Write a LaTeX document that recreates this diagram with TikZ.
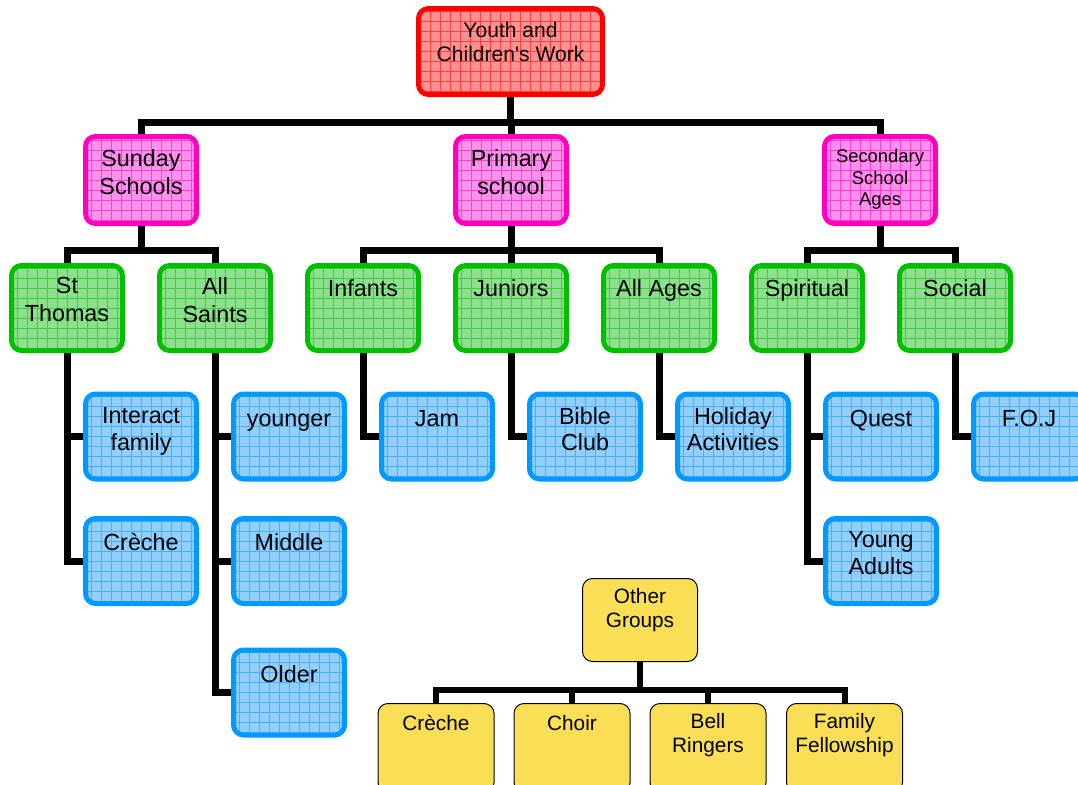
\documentclass[tikz,border=0pt]{standalone}
\usepackage{fontspec}
\setmainfont{Liberation Sans}
\usetikzlibrary{positioning,backgrounds}
\definecolor{topred}{RGB}{255,0,0}
\definecolor{topfill}{RGB}{255,145,145}
\definecolor{grpmag}{RGB}{255,0,190}
\definecolor{grpfill}{RGB}{255,145,238}
\definecolor{subgreen}{RGB}{0,190,0}
\definecolor{subfill}{RGB}{140,226,140}
\definecolor{actblue}{RGB}{0,153,255}
\definecolor{actfill}{RGB}{145,207,255}
\definecolor{othfill}{RGB}{250,222,85}
\tikzset{
  gridbox/.style={draw=#1, line width=3.75pt, rounded corners=7.5pt, inner sep=0pt,
    path picture={\draw[#1!75!white, line width=0.4pt, step=7.5pt]
      (path picture bounding box.south west) grid (path picture bounding box.north east);}},
  topbox/.style={gridbox=topred, fill=topfill, minimum width=138pt, minimum height=64.5pt},
  grpbox/.style={gridbox=grpmag, fill=grpfill, minimum width=83.25pt, minimum height=65.25pt},
  subbox/.style={gridbox=subgreen, fill=subfill, minimum width=83.25pt, minimum height=63.75pt},
  actbox/.style={gridbox=actblue, fill=actfill, minimum width=83.25pt, minimum height=63.75pt},
  othbox/.style={draw=black, line width=0.75pt, fill=othfill, rounded corners=7.5pt,
    minimum width=86.25pt, minimum height=62.25pt},
  kidbox/.style={othbox, minimum width=87pt, minimum height=66.75pt},
  boxtext/.style={anchor=north, align=center, inner sep=0pt, execute at begin node=\strut},
  toptext/.style={boxtext, font=\fontsize{15.8}{17.5}\selectfont, yshift=-12.2pt},
  grptext/.style={boxtext, font=\fontsize{17.5}{21}\selectfont, yshift=-11.2pt},
  sectext/.style={boxtext, font=\fontsize{13.8}{16}\selectfont, yshift=-11.4pt},
  subtext/.style={boxtext, font=\fontsize{17.5}{21}\selectfont, yshift=-10.4pt},
  acttext/.style={boxtext, font=\fontsize{17.5}{20}\selectfont, yshift=-11.7pt},
  othtext/.style={boxtext, font=\fontsize{15.6}{17.8}\selectfont, yshift=-7.8pt},
  conn/.style={draw=black, line width=5.25pt},
  yconn/.style={draw=black, line width=4.5pt}
}

\begin{document}
\begin{tikzpicture}[x=0.75pt, y=-0.75pt]
  \useasboundingbox (0,0) rectangle (1078,785);
  \clip (0,0) rectangle (1078,785);

  % top of the tree
  \node[topbox, label={[toptext]north:Youth and\\Children\textquotesingle s Work}] (youth) at (510.5,51.5) {};

  \node[grpbox, label={[grptext]north:Sunday\\Schools}] (sunday) at (141,180) {};
  \node[grpbox, label={[grptext]north:Primary\\school}] (primary) at (511,180) {};
  \node[grpbox, label={[sectext]north:Secondary\\School\\Ages}] (secondary) at (880,180) {};

  % groups
  \node[subbox, label={[subtext]north:St\\Thomas}] (stthomas) at (67,308) {};
  \node[subbox, label={[subtext]north:All\\Saints}] (allsaints) at (215,308) {};
  \node[subbox, label={[subtext]north:Infants}] (infants) at (363,308) {};
  \node[subbox, label={[subtext]north:Juniors}] (juniors) at (511,308) {};
  \node[subbox, label={[subtext]north:All Ages}] (allages) at (659,308) {};
  \node[subbox, label={[subtext]north:Spiritual}] (spiritual) at (807,308) {};
  \node[subbox, label={[subtext]north:Social}] (social) at (955,308) {};

  % activities
  \node[actbox, label={[acttext]north:Interact\\family}] (interact) at (141,436.5) {};
  \node[actbox, label={[acttext]north:Crèche}] (creche) at (141,561) {};
  \node[actbox, label={[acttext]north:younger}] (younger) at (289,436.5) {};
  \node[actbox, label={[acttext]north:Middle}] (middle) at (289,561) {};
  \node[actbox, label={[acttext]north:Older}] (older) at (289,692.5) {};
  \node[actbox, label={[acttext]north:Jam}] (jam) at (437,436.5) {};
  \node[actbox, label={[acttext]north:Bible\\Club}] (bible) at (585,436.5) {};
  \node[actbox, label={[acttext]north:Holiday\\Activities}] (holiday) at (733,436.5) {};
  \node[actbox, label={[acttext]north:Quest}] (quest) at (881,436.5) {};
  \node[actbox, label={[acttext]north:Young\\Adults}] (youngadults) at (881,561) {};
  \node[actbox, label={[acttext]north:F.O.J}] (foj) at (1029,436.5) {};

  % other groups
  \node[othbox, label={[othtext]north:Other\\Groups}] (other) at (640,620) {};
  \node[kidbox, label={[othtext]north:Crèche}] (ocreche) at (436,748) {};
  \node[kidbox, label={[othtext]north:Choir}] (choir) at (572,748) {};
  \node[kidbox, label={[othtext]north:Bell\\Ringers}] (bell) at (708,748) {};
  \node[kidbox, label={[othtext]north:Family\\Fellowship}] (family) at (844.5,748) {};

  \coordinate (topbus) at (510.5,122);
  \coordinate (ssbus) at (141,250);
  \coordinate (pbus) at (511,250);
  \coordinate (sbus) at (880,250);
  \coordinate (obus) at (640,689.5);

  \begin{scope}[on background layer]
    \draw[conn] (youth.south) -- (topbus);
    \draw[conn] (sunday.north) |- (topbus) -| (secondary.north);
    \draw[conn] (primary.north) -- (primary.north |- topbus);

    \draw[conn] (sunday.south) -- (ssbus);
    \draw[conn] (stthomas.north) |- (ssbus) -| (allsaints.north);
    \draw[conn] (primary.south) -- (juniors.north);
    \draw[conn] (infants.north) |- (pbus) -| (allages.north);
    \draw[conn] (secondary.south) -- (sbus);
    \draw[conn] (spiritual.north) |- (sbus) -| (social.north);

    \draw[conn] (stthomas.south) |- (interact.west);
    \draw[conn] (stthomas.south) |- (creche.west);
    \draw[conn] (allsaints.south) |- (younger.west);
    \draw[conn] (allsaints.south) |- (middle.west);
    \draw[conn] (allsaints.south) |- (older.west);
    \draw[conn] (infants.south) |- (jam.west);
    \draw[conn] (juniors.south) |- (bible.west);
    \draw[conn] (allages.south) |- (holiday.west);
    \draw[conn] (spiritual.south) |- (quest.west);
    \draw[conn] (spiritual.south) |- (youngadults.west);
    \draw[conn] (social.south) |- (foj.west);

    \draw[yconn] (other.south) -- (obus);
    \draw[yconn] (ocreche.north) |- (obus) -| (family.north);
    \draw[yconn] (choir.north) -- (choir.north |- obus);
    \draw[yconn] (bell.north) -- (bell.north |- obus);
  \end{scope}
\end{tikzpicture}
\end{document}
